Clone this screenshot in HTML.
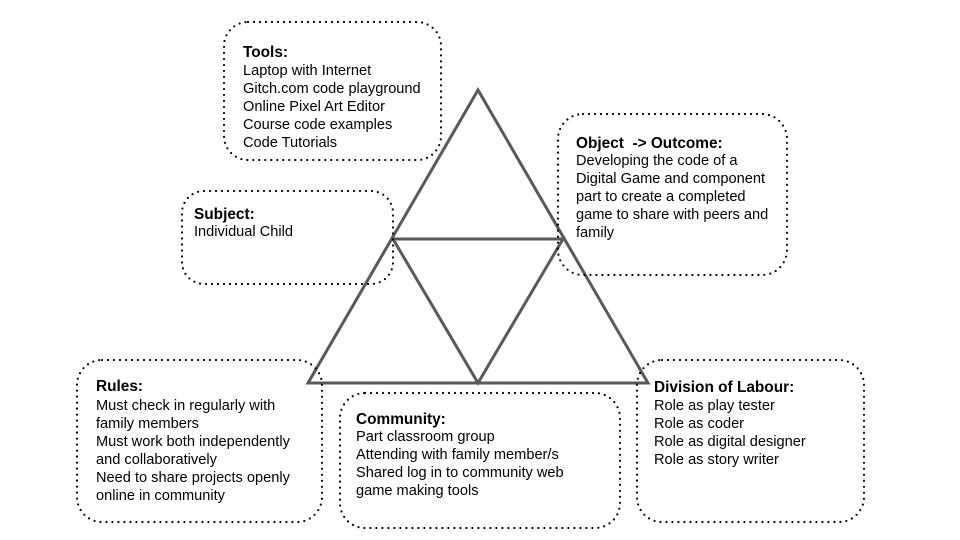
<!DOCTYPE html>
<html><head><meta charset="utf-8"><style>
html,body{margin:0;padding:0;background:#fff;width:960px;height:540px;overflow:hidden}
text{font-family:"Liberation Sans",Arial,sans-serif;font-size:14.6px;fill:#000}
.t{font-weight:bold;font-size:15.4px}
.b{fill:none;stroke:#000;stroke-width:2.2;stroke-dasharray:0 6;stroke-linecap:round}
</style></head><body>
<svg width="960" height="540" xmlns="http://www.w3.org/2000/svg">
<g fill="none" stroke="#595959" stroke-width="3" stroke-linejoin="miter">
<polygon points="478,90 308,383 648,383"/>
<polygon points="393,239 563,239 478,383"/>
</g>
<rect class="b" x="224" y="22" width="217" height="138" rx="24"/>
<rect class="b" x="182" y="191" width="211" height="93" rx="22"/>
<rect class="b" x="558" y="114" width="229" height="161" rx="25"/>
<rect class="b" x="77" y="360" width="245" height="162" rx="25"/>
<rect class="b" x="340" y="393" width="280" height="135" rx="25"/>
<rect class="b" x="637" y="360" width="227" height="162" rx="25"/>

<text class="t" x="243" y="57">Tools:</text>
<text x="243" y="75">Laptop with Internet</text>
<text x="243" y="93">Gitch.com code playground</text>
<text x="243" y="111">Online Pixel Art Editor</text>
<text x="243" y="129">Course code examples</text>
<text x="243" y="147">Code Tutorials</text>

<text class="t" x="194" y="219">Subject:</text>
<text x="194" y="236">Individual Child</text>

<text class="t" x="576" y="148" xml:space="preserve">Object  -&gt; Outcome:</text>
<text x="576" y="165">Developing the code of a</text>
<text x="576" y="183">Digital Game and component</text>
<text x="576" y="201">part to create a completed</text>
<text x="576" y="219">game to share with peers and</text>
<text x="576" y="237">family</text>

<text class="t" x="96" y="391">Rules:</text>
<text x="96" y="410">Must check in regularly with</text>
<text x="96" y="428">family members</text>
<text x="96" y="446">Must work both independently</text>
<text x="96" y="464">and collaboratively</text>
<text x="96" y="482">Need to share projects openly</text>
<text x="96" y="500">online in community</text>

<text class="t" x="356" y="424">Community:</text>
<text x="356" y="441">Part classroom group</text>
<text x="356" y="459">Attending with family member/s</text>
<text x="356" y="477">Shared log in to community web</text>
<text x="356" y="495">game making tools</text>

<text class="t" x="654" y="392">Division of Labour:</text>
<text x="654" y="410">Role as play tester</text>
<text x="654" y="428">Role as coder</text>
<text x="654" y="446">Role as digital designer</text>
<text x="654" y="464">Role as story writer</text>
</svg>
</body></html>
